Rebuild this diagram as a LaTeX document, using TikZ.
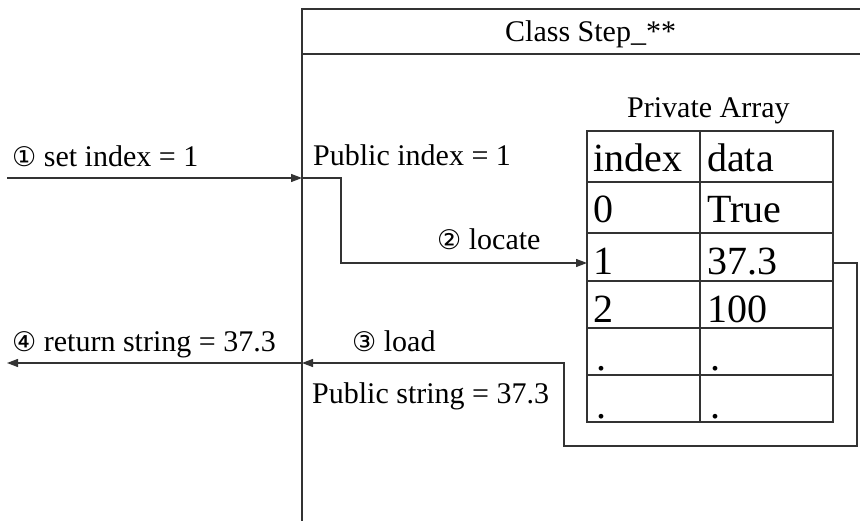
\documentclass[tikz,border=0pt]{standalone}
\usepackage{fontspec}
\setmainfont{Liberation Serif}
\newfontfamily\circfont{DejaVu Sans}
\usetikzlibrary{arrows.meta}

\begin{document}
\begin{tikzpicture}[x=1pt,y=-1pt,
  line/.style={draw=black!80,line width=1.2pt},
  flow/.style={line,-{Triangle[length=11pt,width=8pt]}},
  lbl/.style={anchor=base west,inner sep=0pt,font=\fontsize{30}{36}\selectfont},
  cell/.style={anchor=base west,inner sep=0pt,font=\fontsize{40}{48}\selectfont},
]
\useasboundingbox (0,0) rectangle (860,521);

% class frame (open to the right and bottom)
\draw[line] (860,9) -- (302,9) -- (302,521);
\draw[line] (302,54) -- (860,54);
\node[lbl] (title) at (505,42) {Class Step\_**};

% private array table
\node[lbl] (arrtitle) at (627,118) {Private Array};
\draw[line] (587,131) rectangle (833,422);
\draw[line] (700,131) -- (700,422);
\foreach \y in {182,233,281,328,375} \draw[line] (587,\y) -- (833,\y);

\node[cell] (h1) at (593,172) {index};
\node[cell] (h2) at (707,172) {data};
\node[cell] (i0) at (593,223) {0};
\node[cell] (d0) at (707,223) {True};
\node[cell] (i1) at (593,275) {1};
\node[cell] (d1) at (707,275) {37.3};
\node[cell] (i2) at (593,323) {2};
\node[cell] (d2) at (707,323) {100};
\node[cell] (i3) at (596,371) {.};
\node[cell] (d3) at (710,371) {.};
\node[cell] (i4) at (596,418) {.};
\node[cell] (d4) at (710,418) {.};

% labels
\node[lbl] (l1) at (12,167) {{\circfont\fontsize{27}{32}\selectfont ①} set index = 1};
\node[lbl] (pubidx) at (313,166) {Public index = 1};
\node[lbl] (l2) at (437,250) {{\circfont\fontsize{27}{32}\selectfont ②} locate};
\node[lbl] (l3) at (352,352) {{\circfont\fontsize{27}{32}\selectfont ③} load};
\node[lbl] (l4) at (12,352) {{\circfont\fontsize{27}{32}\selectfont ④} return string = 37.3};
\node[lbl] (pubstr) at (312,404) {Public string = 37.3};

% connector end points
\coordinate (setin) at (7,178);
\coordinate (boxin) at (302,178);
\coordinate (bendA) at (341,263);
\coordinate (rowin) at (587,263);
\coordinate (rowout) at (833,263);
\coordinate (loopR) at (857,263);
\coordinate (loopL) at (564,446);
\coordinate (boxout) at (302,363);
\coordinate (retout) at (7,363);

% ① set index
\draw[flow] (setin) -- (boxin);
% ② locate
\draw[flow] (boxin) -| (bendA) -- (rowin);
% ③ load
\draw[flow] (rowout) -- (loopR) |- (loopL) |- (boxout);
% ④ return
\draw[flow] (boxout) -- (retout);
\end{tikzpicture}
\end{document}
